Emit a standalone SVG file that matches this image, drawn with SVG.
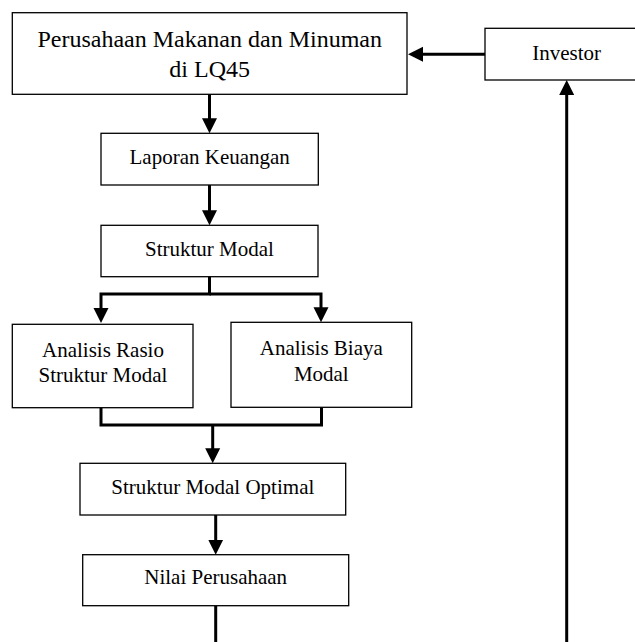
<svg xmlns="http://www.w3.org/2000/svg" width="635" height="642" viewBox="0 0 635 642">
<style>
.box{fill:#fff;stroke:#000;stroke-width:1.3}
.t{font-family:"Liberation Serif","Times New Roman",serif;font-size:21px;fill:#000;text-anchor:middle}
.big{font-size:24px}
.c{fill:none;stroke:#000;stroke-width:3}
</style>
<defs>
<marker id="ah" markerUnits="userSpaceOnUse" markerWidth="16" markerHeight="16" viewBox="0 0 16 16" refX="11" refY="8" orient="auto">
<path d="M0,0.5 L15,8 L0,15.5 Z" fill="#000"/>
</marker>
</defs>
<rect width="635" height="642" fill="#fff"/>
<g id="connectors">
<path class="c" d="M485,54.3 H412" marker-end="url(#ah)"/>
<path class="c" d="M209.5,94.3 V129.3" marker-end="url(#ah)"/>
<path class="c" d="M209.5,185 V221.3" marker-end="url(#ah)"/>
<path class="c" d="M209.5,276.7 V294 H101 V319" marker-end="url(#ah)"/>
<path class="c" d="M209.5,294 H321 V318.3" marker-end="url(#ah)"/>
<path class="c" d="M101,407.7 V425 H321.5 V407.3"/>
<path class="c" d="M212.7,425 V459.3" marker-end="url(#ah)"/>
<path class="c" d="M215.7,515 V550.7" marker-end="url(#ah)"/>
<path class="c" d="M215.7,605.7 V642"/>
<path class="c" d="M566.7,642 V84" marker-end="url(#ah)"/>
</g>
<g id="perusahaan">
<rect class="box" x="12.3" y="12.7" width="394.7" height="81.6"/>
<text class="t big" x="209.7" y="46.5">Perusahaan Makanan dan Minuman</text>
<text class="t big" x="209.7" y="77">di LQ45</text>
</g>
<g id="investor">
<rect class="box" x="485" y="28.3" width="165" height="51.7"/>
<text class="t" x="566.7" y="60">Investor</text>
</g>
<g id="laporan">
<rect class="box" x="101" y="133.3" width="217.3" height="51.7"/>
<text class="t" x="209.7" y="164.3">Laporan Keuangan</text>
</g>
<g id="struktur">
<rect class="box" x="101" y="225.3" width="217" height="51.4"/>
<text class="t" x="209.5" y="256">Struktur Modal</text>
</g>
<g id="rasio">
<rect class="box" x="12.3" y="324.3" width="180.7" height="83.4"/>
<text class="t" x="103" y="357.3">Analisis Rasio</text>
<text class="t" x="103" y="381.7">Struktur Modal</text>
</g>
<g id="biaya">
<rect class="box" x="231" y="322.3" width="180.7" height="85"/>
<text class="t" x="321.3" y="355">Analisis Biaya</text>
<text class="t" x="321.3" y="381">Modal</text>
</g>
<g id="optimal">
<rect class="box" x="80" y="463.3" width="265.7" height="51.7"/>
<text class="t" x="212.8" y="494">Struktur Modal Optimal</text>
</g>
<g id="nilai">
<rect class="box" x="82.7" y="554.7" width="266" height="51"/>
<text class="t" x="215.7" y="584.3">Nilai Perusahaan</text>
</g>
</svg>
